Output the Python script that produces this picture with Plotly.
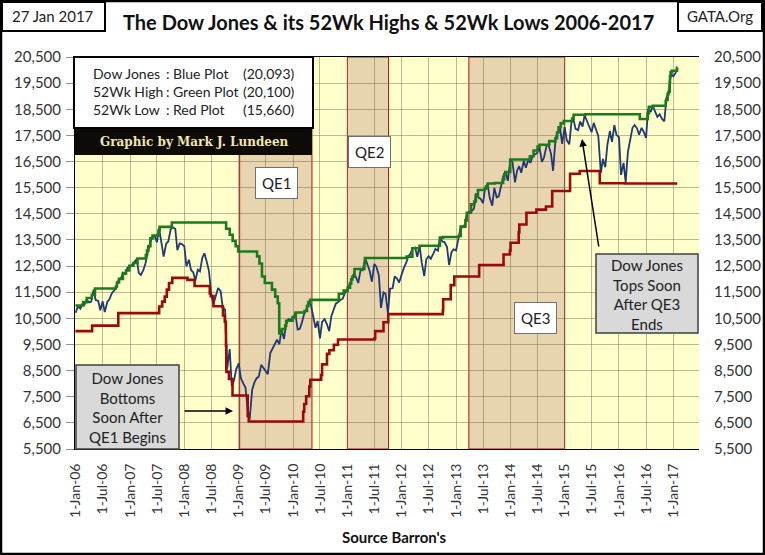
import plotly.graph_objects as go
import pandas as pd

# Dow Jones closes, read on the 1st and 15th of every month
dow_2006 = [10718, 10960, 10865, 11058, 11025, 11210, 11109, 11137, 11600, 11200, 11170, 10810,
            11150, 10740, 11125, 11230, 11460, 11560, 11680, 11960, 12030, 12250, 12195, 12440]
dow_2007 = [12460, 12560, 12670, 12765, 12235, 12160, 12354, 12610, 13060, 13380, 13630, 13640,
            13410, 13950, 13360, 12860, 13360, 13440, 13900, 13980, 13930, 13110, 13370, 13340]
dow_2008 = [13260, 12500, 12740, 12350, 12260, 11950, 12360, 12300, 12820, 12990, 12640, 12300,
            11350, 11060, 11380, 11660, 11540, 10920, 10830, 8580, 9325, 7900, 8150, 8560]
dow_2009 = [8776, 8210, 8000, 7850, 7060, 6630, 7760, 8030, 8210, 8270, 8720, 8610,
            8500, 8360, 9170, 9320, 9500, 9680, 9510, 10060, 9710, 10270, 10470, 10450]
dow_2010 = [10430, 10710, 10070, 10100, 10325, 10640, 10860, 11140, 11010, 10620, 10140, 10400,
            9730, 10360, 10470, 10300, 10010, 10570, 10830, 11060, 11120, 11200, 11250, 11460]
dow_2011 = [11580, 11790, 12040, 12230, 12060, 11850, 12380, 12340, 12810, 12600, 12290, 11900,
            12580, 12480, 12130, 10900, 11490, 11430, 10700, 11640, 11650, 12100, 12020, 11870]
dow_2012 = [12220, 12420, 12630, 12880, 12980, 13190, 13210, 12850, 13280, 12630, 12120, 12770,
            12880, 12780, 12980, 13160, 13090, 13590, 13440, 13420, 13230, 12540, 13030, 13140]
dow_2013 = [13100, 13530, 14010, 13980, 14090, 14510, 14580, 14600, 14700, 15280, 15120, 15070,
            14910, 15480, 15630, 15110, 14810, 15490, 15130, 15170, 15620, 15960, 16090, 15760]
dow_2014 = [16580, 16480, 15700, 16150, 16320, 16070, 16530, 16260, 16560, 16450, 16720, 16780,
            16830, 17060, 16490, 16660, 17100, 17130, 16800, 16140, 17390, 17630, 17780, 17180]
dow_2015 = [17820, 17320, 17160, 17970, 18130, 17750, 17700, 18030, 17840, 18270, 18010, 17790,
            17620, 17980, 17690, 17480, 16060, 16600, 16280, 17140, 17660, 17250, 17890, 17520]
dow_2016 = [17430, 15990, 16450, 15700, 16870, 17330, 17790, 17900, 17770, 17530, 17790, 17640,
            17400, 18520, 18400, 18630, 18420, 18210, 18310, 18140, 18040, 18920, 19190, 19850]
dow_2017 = [19760, 19890, 20093]

# 52 week high (green step plot): date it changed, new level
high_dates = ['2005-12-30', '2006-02-21', '2006-03-16', '2006-04-19', '2006-05-10', '2006-09-28',
              '2006-10-05', '2006-10-19', '2006-11-14', '2006-12-05', '2006-12-27', '2007-01-24',
              '2007-02-20', '2007-04-17', '2007-04-25', '2007-05-04', '2007-05-18', '2007-06-01',
              '2007-07-12', '2007-07-19', '2007-10-09', '2008-10-08', '2008-11-01', '2008-11-21',
              '2008-12-11', '2008-12-28', '2009-05-04', '2009-05-20', '2009-06-06', '2009-06-25',
              '2009-08-12', '2009-09-03', '2009-09-20', '2009-09-30', '2009-10-14', '2009-10-19',
              '2009-11-09', '2009-11-16', '2009-12-28', '2010-01-19', '2010-03-19', '2010-04-05',
              '2010-04-14', '2010-04-26', '2010-11-05', '2010-12-07', '2011-01-03', '2011-01-19',
              '2011-01-27', '2011-02-04', '2011-02-18', '2011-04-26', '2011-04-29', '2012-02-03',
              '2012-03-13', '2012-05-01', '2012-09-14', '2012-10-05', '2013-01-18', '2013-02-01',
              '2013-03-05', '2013-03-14', '2013-04-11', '2013-05-03', '2013-05-14', '2013-05-28',
              '2013-07-12', '2013-07-22', '2013-08-02', '2013-09-18', '2013-11-13', '2013-11-21',
              '2013-11-27', '2013-12-31', '2014-05-12', '2014-06-06', '2014-07-03', '2014-07-16',
              '2014-09-19', '2014-10-31', '2014-11-11', '2014-11-21', '2014-12-05', '2014-12-26',
              '2015-02-20', '2015-03-02', '2015-05-19', '2016-05-20', '2016-07-12', '2016-07-20',
              '2016-08-15', '2016-11-10', '2016-11-14', '2016-11-23', '2016-11-29', '2016-12-02',
              '2016-12-07', '2016-12-09', '2016-12-13', '2016-12-20', '2017-01-25', '2017-01-26',
              '2017-01-27']
high_vals = [10990, 11120, 11280, 11400, 11640, 11720,
             11870, 12010, 12220, 12330, 12510, 12620,
             12790, 12920, 13090, 13260, 13560, 13670,
             13860, 14000, 14165, 13930, 13700, 13460,
             13260, 13060, 12870, 12600, 12100, 11850,
             11600, 11330, 11080, 9920, 10015, 10090,
             10230, 10410, 10550, 10725, 10780, 10970,
             11120, 11205, 11440, 11560, 11670, 11830,
             11990, 12090, 12390, 12600, 12810, 12860,
             13180, 13280, 13590, 13610, 13650, 14010,
             14250, 14540, 14860, 14970, 15220, 15410,
             15460, 15550, 15660, 15680, 15820, 16010,
             16100, 16580, 16700, 16920, 17070, 17140,
             17280, 17390, 17610, 17810, 17960, 18050,
             18140, 18290, 18310, 18125, 18350, 18595,
             18636, 18810, 18870, 19080, 19150, 19170,
             19550, 19760, 19910, 19975, 20070, 20100,
             20100]

# 52 week low (red step plot)
low_dates = ['2005-12-30', '2006-04-21', '2006-10-14', '2007-07-16', '2007-08-05', '2007-08-22',
             '2007-09-05', '2007-09-20', '2007-10-12', '2008-01-22', '2008-03-10', '2008-06-20',
             '2008-06-27', '2008-07-15', '2008-09-15', '2008-09-17', '2008-09-29', '2008-10-06',
             '2008-10-07', '2008-10-09', '2008-10-10', '2008-10-27', '2008-11-20', '2009-03-02',
             '2009-03-09', '2010-03-10', '2010-03-17', '2010-03-30', '2010-04-20', '2010-04-27',
             '2010-07-09', '2010-07-15', '2010-08-17', '2010-09-02', '2010-10-02', '2010-10-30',
             '2011-07-03', '2011-07-07', '2011-09-01', '2011-10-03', '2012-10-04', '2012-10-06',
             '2012-11-26', '2012-12-20', '2013-06-05', '2013-11-16', '2013-12-29', '2014-01-02',
             '2014-02-26', '2014-03-02', '2014-04-19', '2014-06-25', '2014-08-28', '2014-10-09',
             '2015-02-06', '2015-04-12', '2015-08-25', '2016-02-11', '2017-01-27']
low_vals = [10010, 10220, 10700, 10950, 11140, 11330,
            11600, 11850, 12050, 11970, 11740, 11450,
            11350, 10960, 10920, 10610, 10370, 9960,
            9450, 8580, 8450, 8180, 7550, 6760,
            6550, 6930, 7220, 7520, 7890, 8150,
            8330, 8740, 9140, 9280, 9490, 9690,
            9740, 10010, 10350, 10660, 10810, 11230,
            11770, 12100, 12540, 12940, 13100, 13390,
            13790, 14090, 14540, 14660, 14780, 15370,
            16030, 16140, 15670, 15660, 15660]

# QE programs (shaded)
qe_names = ['QE1', 'QE2', 'QE3']
qe_start = ['2009-01-07', '2011-01-01', '2013-03-28']
qe_end = ['2010-05-08', '2011-10-05', '2015-01-01']

dow_close = (dow_2006 + dow_2007 + dow_2008 + dow_2009 + dow_2010 + dow_2011 + dow_2012
             + dow_2013 + dow_2014 + dow_2015 + dow_2016 + dow_2017)
dow_dates = list(pd.date_range('2006-01-01', '2017-01-15', freq='SMS')) + [pd.Timestamp('2017-01-27')]

tick_dates = pd.date_range('2006-01-01', '2017-07-01', freq='6MS')
tick_text = ['1-%s-%s' % (d.strftime('%b'), d.strftime('%y')) for d in tick_dates]

# plot area in pixels, used to place the boxes and notes
L, R, T, B = 75, 699, 57, 449


def px(x):
    return (x - L) / (R - L)


def py(y):
    return (B - y) / (B - T)


FONT = 'Lato'
GRID = 'rgba(110,100,80,0.45)'

fig = go.Figure()
fig.add_trace(go.Scatter(x=dow_dates, y=dow_close, mode='lines',
                         line=dict(color='#1F3A73', width=1.8), name='Dow Jones'))
fig.add_trace(go.Scatter(x=low_dates, y=low_vals, mode='lines',
                         line=dict(color='#9B0A0A', width=2.6, shape='hv'), name='52Wk Low'))
fig.add_trace(go.Scatter(x=high_dates, y=high_vals, mode='lines',
                         line=dict(color='#1C7A1C', width=2.6, shape='hv'), name='52Wk High'))
# carries the right hand axis
fig.add_trace(go.Scatter(x=dow_dates[-1:], y=dow_close[-1:], yaxis='y2', mode='markers',
                         marker=dict(opacity=0), hoverinfo='skip'))

shapes = []
for s, e in zip(qe_start, qe_end):
    shapes.append(dict(type='rect', xref='x', yref='paper', x0=s, x1=e, y0=0, y1=1,
                       fillcolor='#E8D5B0', line=dict(color='#A01818', width=1), layer='below'))

# outer frame, date box, GATA box
shapes.append(dict(type='rect', xref='paper', yref='paper', x0=px(1), x1=px(764), y0=py(554), y1=py(1),
                   line=dict(color='black', width=2.5)))
shapes.append(dict(type='rect', xref='paper', yref='paper', x0=px(2), x1=px(105), y0=py(31), y1=py(2),
                   fillcolor='white', line=dict(color='black', width=2)))
shapes.append(dict(type='rect', xref='paper', yref='paper', x0=px(678), x1=px(762), y0=py(31), y1=py(2),
                   fillcolor='white', line=dict(color='black', width=2)))
# legend box and credit bar
shapes.append(dict(type='rect', xref='paper', yref='paper', x0=px(74), x1=px(313), y0=py(128), y1=py(57),
                   fillcolor='white', line=dict(color='black', width=2)))
shapes.append(dict(type='rect', xref='paper', yref='paper', x0=px(75), x1=px(312), y0=py(155), y1=py(129),
                   fillcolor='#0E0A08', line=dict(width=0)))
# note boxes
shapes.append(dict(type='rect', xref='paper', yref='paper', x0=px(76), x1=px(179), y0=py(449), y1=py(365),
                   fillcolor='#D9D9D9', line=dict(color='#404040', width=1.5)))
shapes.append(dict(type='rect', xref='paper', yref='paper', x0=px(596), x1=px(698), y0=py(333), y1=py(254),
                   fillcolor='#D9D9D9', line=dict(color='#404040', width=1.5)))

ann = []
ann.append(dict(text='The Dow Jones & its 52Wk Highs & 52Wk Lows 2006-2017', x=px(388), y=py(22),
                font=dict(family=FONT, size=20, color='#111111', weight='bold')))
ann.append(dict(text='27 Jan 2017', x=px(53), y=py(16), font=dict(family=FONT, size=15, color='#222222')))
ann.append(dict(text='GATA.Org', x=px(720), y=py(16), font=dict(family=FONT, size=15, color='#222222')))
ann.append(dict(text="Source Barron's", x=px(394), y=py(537),
                font=dict(family=FONT, size=15, color='#111111', weight='bold')))
ann.append(dict(text='Dow Jones<br>52Wk High<br>52Wk Low', x=px(91), y=py(91), xanchor='left', align='left',
                font=dict(family=FONT, size=14, color='#222222')))
ann.append(dict(text=':<br>:<br>:', x=px(164), y=py(91), xanchor='left', align='left',
                font=dict(family=FONT, size=14, color='#222222')))
ann.append(dict(text='Blue Plot<br>Green Plot<br>Red Plot', x=px(171), y=py(91), xanchor='left', align='left',
                font=dict(family=FONT, size=14, color='#222222')))
ann.append(dict(text='(20,093)<br>(20,100)<br>(15,660)', x=px(297), y=py(91), xanchor='right', align='right',
                font=dict(family=FONT, size=14, color='#222222')))
ann.append(dict(text='Graphic by Mark J. Lundeen', x=px(194), y=py(142),
                font=dict(family='DejaVu Serif', size=12, color='#EFE6B0', weight='bold')))
qe_pos = [(276, 183), (369, 152), (535, 318)]
for name, (qx, qy) in zip(qe_names, qe_pos):
    ann.append(dict(text=name, x=px(qx), y=py(qy), bgcolor='white', bordercolor='#707070', borderwidth=1,
                    borderpad=6, font=dict(family=FONT, size=15, color='#222222')))
ann.append(dict(text='Dow Jones<br>Bottoms<br>Soon After<br>QE1 Begins', x=px(127), y=py(407),
                font=dict(family=FONT, size=15, color='#222222')))
ann.append(dict(text='Dow Jones<br>Tops Soon<br>After QE3<br>Ends', x=px(647), y=py(294),
                font=dict(family=FONT, size=15, color='#222222')))
ann.append(dict(text='', x=px(233), y=py(411), showarrow=True, ax=-50, ay=0, arrowhead=2,
                arrowsize=1, arrowwidth=1.5, arrowcolor='black'))
ann.append(dict(text='', x=px(582), y=py(139), showarrow=True, ax=17, ay=109, arrowhead=2,
                arrowsize=1, arrowwidth=1.5, arrowcolor='black'))
for a in ann:
    a.setdefault('xref', 'paper')
    a.setdefault('yref', 'paper')
    a.setdefault('showarrow', False)
    a.setdefault('xanchor', 'center')
    a.setdefault('yanchor', 'middle')

yax = dict(range=[5500, 20500], tick0=5500, dtick=1000, tickformat=',d', showgrid=True, gridcolor=GRID,
           gridwidth=1, zeroline=False, automargin=False,
           tickfont=dict(family=FONT, size=15, color='#333333'))

fig.update_layout(
    width=765, height=555, autosize=False,
    margin=dict(l=L, r=765 - R, t=T, b=555 - B),
    paper_bgcolor='white', plot_bgcolor='#FFFFCC',
    showlegend=False,
    xaxis=dict(type='date', range=['2005-12-27', '2017-06-22'], tickvals=tick_dates, ticktext=tick_text,
               tickangle=-90, showgrid=True, gridcolor=GRID, gridwidth=1, zeroline=False,
               showline=True, linecolor='black', linewidth=1, mirror=True, ticks='', automargin=False,
               ticklabelstandoff=8, tickfont=dict(family=FONT, size=14, color='#333333')),
    yaxis=dict(yax, showline=True, linecolor='black', linewidth=1, ticks='outside', ticklen=8,
               tickcolor='#909090', ticklabelstandoff=2),
    yaxis2=dict(yax, overlaying='y', side='right', showgrid=False, ticks='', ticklabelstandoff=14),
    shapes=shapes, annotations=ann,
)

# page body margin off so the figure sits at the window's corner
fig.write_html('out.html', config={'displayModeBar': False},
               post_script="document.body.style.margin='0px';")
